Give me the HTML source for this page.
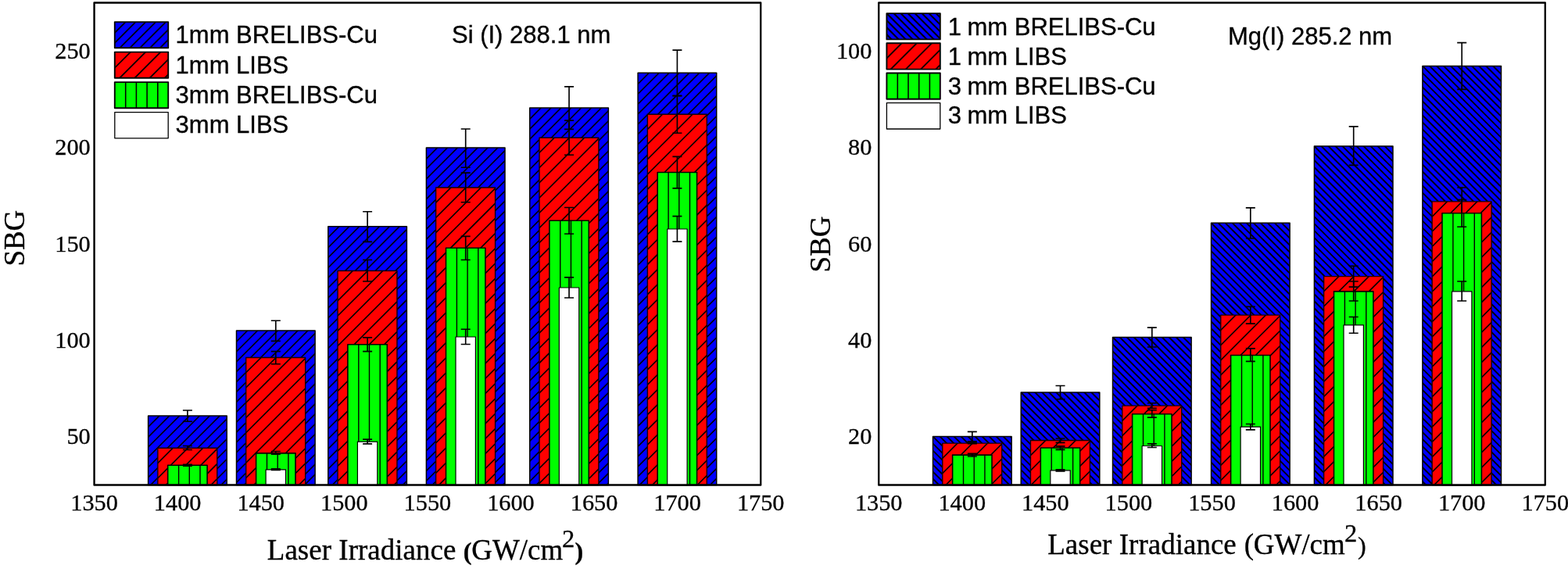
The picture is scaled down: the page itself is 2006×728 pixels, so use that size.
<!DOCTYPE html>
<html><head><meta charset="utf-8"><title>SBG vs Laser Irradiance</title>
<style>
html,body{margin:0;padding:0;background:#fff;}
body{width:2006px;height:728px;overflow:hidden;}
svg{display:block;}
.tk{font-family:"Liberation Serif",serif;font-size:30.3px;fill:#000;stroke:#000;stroke-width:0.3px;}
.al{font-family:"Liberation Serif",serif;font-size:36.9px;fill:#000;stroke:#000;stroke-width:0.35px;}
.lg{font-family:"Liberation Sans",sans-serif;font-size:31px;fill:#000;stroke:#000;stroke-width:0.35px;}
</style></head><body>
<svg width="2006" height="728" viewBox="0 0 2006 728">
<defs><clipPath id="c1"><rect x="189.6" y="532.1" width="100.6" height="88.45"/></clipPath><clipPath id="c2"><rect x="201.85" y="573.3" width="75.9" height="47.25"/></clipPath><clipPath id="c3"><rect x="214.7" y="595.3" width="50.4" height="25.25"/></clipPath><clipPath id="c4"><rect x="302.5" y="422.9" width="100.6" height="197.65"/></clipPath><clipPath id="c5"><rect x="314.75" y="457.5" width="75.9" height="163.05"/></clipPath><clipPath id="c6"><rect x="327.6" y="579.9" width="50.4" height="40.65"/></clipPath><clipPath id="c7"><rect x="419.8" y="289.7" width="100.6" height="330.85"/></clipPath><clipPath id="c8"><rect x="432.05" y="346.5" width="75.9" height="274.05"/></clipPath><clipPath id="c9"><rect x="444.9" y="440.7" width="50.4" height="179.85"/></clipPath><clipPath id="c10"><rect x="545.4" y="189" width="100.6" height="431.55"/></clipPath><clipPath id="c11"><rect x="557.65" y="240" width="75.9" height="380.55"/></clipPath><clipPath id="c12"><rect x="570.5" y="317.3" width="50.4" height="303.25"/></clipPath><clipPath id="c13"><rect x="677.75" y="138.1" width="100.6" height="482.45"/></clipPath><clipPath id="c14"><rect x="690" y="176.2" width="75.9" height="444.35"/></clipPath><clipPath id="c15"><rect x="702.85" y="282.3" width="50.4" height="338.25"/></clipPath><clipPath id="c16"><rect x="816.1" y="93.3" width="100.6" height="527.25"/></clipPath><clipPath id="c17"><rect x="828.35" y="146.2" width="75.9" height="474.35"/></clipPath><clipPath id="c18"><rect x="841.2" y="220.5" width="50.4" height="400.05"/></clipPath><clipPath id="c19"><rect x="146.8" y="28.1" width="68.4" height="33.2"/></clipPath><clipPath id="c20"><rect x="146.8" y="66.6" width="68.4" height="33.2"/></clipPath><clipPath id="c21"><rect x="146.8" y="105.1" width="68.4" height="33.2"/></clipPath><clipPath id="c22"><rect x="1193.5" y="558.5" width="100.6" height="62.05"/></clipPath><clipPath id="c23"><rect x="1205.75" y="567.1" width="75.9" height="53.45"/></clipPath><clipPath id="c24"><rect x="1218.6" y="582.1" width="50.4" height="38.45"/></clipPath><clipPath id="c25"><rect x="1306.2" y="502.1" width="100.6" height="118.45"/></clipPath><clipPath id="c26"><rect x="1318.45" y="563.5" width="75.9" height="57.05"/></clipPath><clipPath id="c27"><rect x="1331.3" y="573" width="50.4" height="47.55"/></clipPath><clipPath id="c28"><rect x="1423.5" y="431.4" width="100.6" height="189.15"/></clipPath><clipPath id="c29"><rect x="1435.75" y="519.1" width="75.9" height="101.45"/></clipPath><clipPath id="c30"><rect x="1448.6" y="529.8" width="50.4" height="90.75"/></clipPath><clipPath id="c31"><rect x="1549.5" y="285.2" width="100.6" height="335.35"/></clipPath><clipPath id="c32"><rect x="1561.75" y="403.1" width="75.9" height="217.45"/></clipPath><clipPath id="c33"><rect x="1574.6" y="454.5" width="50.4" height="166.05"/></clipPath><clipPath id="c34"><rect x="1681.4" y="187" width="100.6" height="433.55"/></clipPath><clipPath id="c35"><rect x="1693.65" y="353.6" width="75.9" height="266.95"/></clipPath><clipPath id="c36"><rect x="1706.5" y="372.9" width="50.4" height="247.65"/></clipPath><clipPath id="c37"><rect x="1819.9" y="84.4" width="100.6" height="536.15"/></clipPath><clipPath id="c38"><rect x="1832.15" y="257.9" width="75.9" height="362.65"/></clipPath><clipPath id="c39"><rect x="1845" y="272.7" width="50.4" height="347.85"/></clipPath><clipPath id="c40"><rect x="1134.4" y="17.1" width="68.4" height="33.3"/></clipPath><clipPath id="c41"><rect x="1134.4" y="55.3" width="68.4" height="33.3"/></clipPath><clipPath id="c42"><rect x="1134.4" y="93.5" width="68.4" height="33.3"/></clipPath></defs>
<rect width="2006" height="728" fill="#fff"/>
<rect x="189.6" y="532.1" width="100.6" height="88.45" fill="#0000ff"/><path clip-path="url(#c1)" d="M187.6 548.28L292.2 443.68M187.6 561.16L292.2 456.56M187.6 574.04L292.2 469.44M187.6 586.92L292.2 482.32M187.6 599.8L292.2 495.2M187.6 612.68L292.2 508.08M187.6 625.56L292.2 520.96M187.6 638.44L292.2 533.84M187.6 651.32L292.2 546.72M187.6 664.2L292.2 559.6M187.6 677.08L292.2 572.48M187.6 689.96L292.2 585.36M187.6 702.84L292.2 598.24M187.6 715.72L292.2 611.12" stroke="#000" stroke-width="1.6" fill="none"/><rect x="189.6" y="532.1" width="100.6" height="88.45" fill="none" stroke="#000" stroke-width="1.5" stroke-linejoin="round"/>
<path d="M239.9 525V539.2M233.9 525H245.9M233.9 539.2H245.9" stroke="#000" stroke-width="1.65" fill="none"/>
<rect x="201.85" y="573.3" width="75.9" height="47.25" fill="#ff0000"/><path clip-path="url(#c2)" d="M199.85 594.52L279.75 514.62M199.85 613.74L279.75 533.84M199.85 632.96L279.75 553.06M199.85 652.18L279.75 572.28M199.85 671.4L279.75 591.5M199.85 690.62L279.75 610.72" stroke="#000" stroke-width="1.6" fill="none"/><rect x="201.85" y="573.3" width="75.9" height="47.25" fill="none" stroke="#180000" stroke-width="1.4" stroke-linejoin="round"/>
<path d="M239.9 570.5V575.5M233.9 570.5H245.9M233.9 575.5H245.9" stroke="#000" stroke-width="1.65" fill="none"/>
<rect x="214.7" y="595.3" width="50.4" height="25.25" fill="#00ff00"/><path clip-path="url(#c3)" d="M228.6 595.3V620.55M242.3 595.3V620.55M256 595.3V620.55" stroke="#000" stroke-width="1.4" fill="none"/><rect x="214.7" y="595.3" width="50.4" height="25.25" fill="none" stroke="#000" stroke-width="1.6" stroke-linejoin="round"/>
<path d="M239.9 594.3V596.2M233.9 594.3H245.9M233.9 596.2H245.9" stroke="#000" stroke-width="1.65" fill="none"/>
<rect x="302.5" y="422.9" width="100.6" height="197.65" fill="#0000ff"/><path clip-path="url(#c4)" d="M300.5 439.08L405.1 334.48M300.5 451.96L405.1 347.36M300.5 464.84L405.1 360.24M300.5 477.72L405.1 373.12M300.5 490.6L405.1 386M300.5 503.48L405.1 398.88M300.5 516.36L405.1 411.76M300.5 529.24L405.1 424.64M300.5 542.12L405.1 437.52M300.5 555L405.1 450.4M300.5 567.88L405.1 463.28M300.5 580.76L405.1 476.16M300.5 593.64L405.1 489.04M300.5 606.52L405.1 501.92M300.5 619.4L405.1 514.8M300.5 632.28L405.1 527.68M300.5 645.16L405.1 540.56M300.5 658.04L405.1 553.44M300.5 670.92L405.1 566.32M300.5 683.8L405.1 579.2M300.5 696.68L405.1 592.08M300.5 709.56L405.1 604.96M300.5 722.44L405.1 617.84" stroke="#000" stroke-width="1.6" fill="none"/><rect x="302.5" y="422.9" width="100.6" height="197.65" fill="none" stroke="#000" stroke-width="1.5" stroke-linejoin="round"/>
<path d="M352.8 410.2V436.4M346.8 410.2H358.8M346.8 436.4H358.8" stroke="#000" stroke-width="1.65" fill="none"/>
<rect x="314.75" y="457.5" width="75.9" height="163.05" fill="#ff0000"/><path clip-path="url(#c5)" d="M312.75 478.72L392.65 398.82M312.75 497.94L392.65 418.04M312.75 517.16L392.65 437.26M312.75 536.38L392.65 456.48M312.75 555.6L392.65 475.7M312.75 574.82L392.65 494.92M312.75 594.04L392.65 514.14M312.75 613.26L392.65 533.36M312.75 632.48L392.65 552.58M312.75 651.7L392.65 571.8M312.75 670.92L392.65 591.02M312.75 690.14L392.65 610.24" stroke="#000" stroke-width="1.6" fill="none"/><rect x="314.75" y="457.5" width="75.9" height="163.05" fill="none" stroke="#180000" stroke-width="1.4" stroke-linejoin="round"/>
<path d="M352.8 449.6V465.7M346.8 449.6H358.8M346.8 465.7H358.8" stroke="#000" stroke-width="1.65" fill="none"/>
<rect x="327.6" y="579.9" width="50.4" height="40.65" fill="#00ff00"/><path clip-path="url(#c6)" d="M341.5 579.9V620.55M355.2 579.9V620.55M368.9 579.9V620.55" stroke="#000" stroke-width="1.4" fill="none"/><rect x="327.6" y="579.9" width="50.4" height="40.65" fill="none" stroke="#000" stroke-width="1.6" stroke-linejoin="round"/>
<path d="M352.8 577.5V581.1M346.8 577.5H358.8M346.8 581.1H358.8" stroke="#000" stroke-width="1.65" fill="none"/>
<rect x="340.1" y="600.9" width="25.4" height="19.65" fill="#ffffff"/><rect x="340.1" y="600.9" width="25.4" height="19.65" fill="none" stroke="#000" stroke-width="1.2" stroke-linejoin="round"/>
<path d="M352.8 599.9V601.5M346.8 599.9H358.8M346.8 601.5H358.8" stroke="#000" stroke-width="1.65" fill="none"/>
<rect x="419.8" y="289.7" width="100.6" height="330.85" fill="#0000ff"/><path clip-path="url(#c7)" d="M417.8 305.88L522.4 201.28M417.8 318.76L522.4 214.16M417.8 331.64L522.4 227.04M417.8 344.52L522.4 239.92M417.8 357.4L522.4 252.8M417.8 370.28L522.4 265.68M417.8 383.16L522.4 278.56M417.8 396.04L522.4 291.44M417.8 408.92L522.4 304.32M417.8 421.8L522.4 317.2M417.8 434.68L522.4 330.08M417.8 447.56L522.4 342.96M417.8 460.44L522.4 355.84M417.8 473.32L522.4 368.72M417.8 486.2L522.4 381.6M417.8 499.08L522.4 394.48M417.8 511.96L522.4 407.36M417.8 524.84L522.4 420.24M417.8 537.72L522.4 433.12M417.8 550.6L522.4 446M417.8 563.48L522.4 458.88M417.8 576.36L522.4 471.76M417.8 589.24L522.4 484.64M417.8 602.12L522.4 497.52M417.8 615L522.4 510.4M417.8 627.88L522.4 523.28M417.8 640.76L522.4 536.16M417.8 653.64L522.4 549.04M417.8 666.52L522.4 561.92M417.8 679.4L522.4 574.8M417.8 692.28L522.4 587.68M417.8 705.16L522.4 600.56M417.8 718.04L522.4 613.44" stroke="#000" stroke-width="1.6" fill="none"/><rect x="419.8" y="289.7" width="100.6" height="330.85" fill="none" stroke="#000" stroke-width="1.5" stroke-linejoin="round"/>
<path d="M470.1 270.7V309.4M464.1 270.7H476.1M464.1 309.4H476.1" stroke="#000" stroke-width="1.65" fill="none"/>
<rect x="432.05" y="346.5" width="75.9" height="274.05" fill="#ff0000"/><path clip-path="url(#c8)" d="M430.05 367.72L509.95 287.82M430.05 386.94L509.95 307.04M430.05 406.16L509.95 326.26M430.05 425.38L509.95 345.48M430.05 444.6L509.95 364.7M430.05 463.82L509.95 383.92M430.05 483.04L509.95 403.14M430.05 502.26L509.95 422.36M430.05 521.48L509.95 441.58M430.05 540.7L509.95 460.8M430.05 559.92L509.95 480.02M430.05 579.14L509.95 499.24M430.05 598.36L509.95 518.46M430.05 617.58L509.95 537.68M430.05 636.8L509.95 556.9M430.05 656.02L509.95 576.12M430.05 675.24L509.95 595.34M430.05 694.46L509.95 614.56" stroke="#000" stroke-width="1.6" fill="none"/><rect x="432.05" y="346.5" width="75.9" height="274.05" fill="none" stroke="#180000" stroke-width="1.4" stroke-linejoin="round"/>
<path d="M470.1 332.5V360M464.1 332.5H476.1M464.1 360H476.1" stroke="#000" stroke-width="1.65" fill="none"/>
<rect x="444.9" y="440.7" width="50.4" height="179.85" fill="#00ff00"/><path clip-path="url(#c9)" d="M458.8 440.7V620.55M472.5 440.7V620.55M486.2 440.7V620.55" stroke="#000" stroke-width="1.4" fill="none"/><rect x="444.9" y="440.7" width="50.4" height="179.85" fill="none" stroke="#000" stroke-width="1.6" stroke-linejoin="round"/>
<path d="M470.1 431.9V449.6M464.1 431.9H476.1M464.1 449.6H476.1" stroke="#000" stroke-width="1.65" fill="none"/>
<rect x="457.4" y="565.1" width="25.4" height="55.45" fill="#ffffff"/><rect x="457.4" y="565.1" width="25.4" height="55.45" fill="none" stroke="#000" stroke-width="1.2" stroke-linejoin="round"/>
<path d="M470.1 562.1V567.9M464.1 562.1H476.1M464.1 567.9H476.1" stroke="#000" stroke-width="1.65" fill="none"/>
<rect x="545.4" y="189" width="100.6" height="431.55" fill="#0000ff"/><path clip-path="url(#c10)" d="M543.4 205.18L648 100.58M543.4 218.06L648 113.46M543.4 230.94L648 126.34M543.4 243.82L648 139.22M543.4 256.7L648 152.1M543.4 269.58L648 164.98M543.4 282.46L648 177.86M543.4 295.34L648 190.74M543.4 308.22L648 203.62M543.4 321.1L648 216.5M543.4 333.98L648 229.38M543.4 346.86L648 242.26M543.4 359.74L648 255.14M543.4 372.62L648 268.02M543.4 385.5L648 280.9M543.4 398.38L648 293.78M543.4 411.26L648 306.66M543.4 424.14L648 319.54M543.4 437.02L648 332.42M543.4 449.9L648 345.3M543.4 462.78L648 358.18M543.4 475.66L648 371.06M543.4 488.54L648 383.94M543.4 501.42L648 396.82M543.4 514.3L648 409.7M543.4 527.18L648 422.58M543.4 540.06L648 435.46M543.4 552.94L648 448.34M543.4 565.82L648 461.22M543.4 578.7L648 474.1M543.4 591.58L648 486.98M543.4 604.46L648 499.86M543.4 617.34L648 512.74M543.4 630.22L648 525.62M543.4 643.1L648 538.5M543.4 655.98L648 551.38M543.4 668.86L648 564.26M543.4 681.74L648 577.14M543.4 694.62L648 590.02M543.4 707.5L648 602.9M543.4 720.38L648 615.78" stroke="#000" stroke-width="1.6" fill="none"/><rect x="545.4" y="189" width="100.6" height="431.55" fill="none" stroke="#000" stroke-width="1.5" stroke-linejoin="round"/>
<path d="M595.7 165V214.2M589.7 165H601.7M589.7 214.2H601.7" stroke="#000" stroke-width="1.65" fill="none"/>
<rect x="557.65" y="240" width="75.9" height="380.55" fill="#ff0000"/><path clip-path="url(#c11)" d="M555.65 261.22L635.55 181.32M555.65 280.44L635.55 200.54M555.65 299.66L635.55 219.76M555.65 318.88L635.55 238.98M555.65 338.1L635.55 258.2M555.65 357.32L635.55 277.42M555.65 376.54L635.55 296.64M555.65 395.76L635.55 315.86M555.65 414.98L635.55 335.08M555.65 434.2L635.55 354.3M555.65 453.42L635.55 373.52M555.65 472.64L635.55 392.74M555.65 491.86L635.55 411.96M555.65 511.08L635.55 431.18M555.65 530.3L635.55 450.4M555.65 549.52L635.55 469.62M555.65 568.74L635.55 488.84M555.65 587.96L635.55 508.06M555.65 607.18L635.55 527.28M555.65 626.4L635.55 546.5M555.65 645.62L635.55 565.72M555.65 664.84L635.55 584.94M555.65 684.06L635.55 604.16" stroke="#000" stroke-width="1.6" fill="none"/><rect x="557.65" y="240" width="75.9" height="380.55" fill="none" stroke="#180000" stroke-width="1.4" stroke-linejoin="round"/>
<path d="M595.7 221.1V258.7M589.7 221.1H601.7M589.7 258.7H601.7" stroke="#000" stroke-width="1.65" fill="none"/>
<rect x="570.5" y="317.3" width="50.4" height="303.25" fill="#00ff00"/><path clip-path="url(#c12)" d="M584.4 317.3V620.55M598.1 317.3V620.55M611.8 317.3V620.55" stroke="#000" stroke-width="1.4" fill="none"/><rect x="570.5" y="317.3" width="50.4" height="303.25" fill="none" stroke="#000" stroke-width="1.6" stroke-linejoin="round"/>
<path d="M595.7 302.4V332.5M589.7 302.4H601.7M589.7 332.5H601.7" stroke="#000" stroke-width="1.65" fill="none"/>
<rect x="583" y="431" width="25.4" height="189.55" fill="#ffffff"/><rect x="583" y="431" width="25.4" height="189.55" fill="none" stroke="#000" stroke-width="1.2" stroke-linejoin="round"/>
<path d="M595.7 421.2V440.5M589.7 421.2H601.7M589.7 440.5H601.7" stroke="#000" stroke-width="1.65" fill="none"/>
<rect x="677.75" y="138.1" width="100.6" height="482.45" fill="#0000ff"/><path clip-path="url(#c13)" d="M675.75 154.28L780.35 49.68M675.75 167.16L780.35 62.56M675.75 180.04L780.35 75.44M675.75 192.92L780.35 88.32M675.75 205.8L780.35 101.2M675.75 218.68L780.35 114.08M675.75 231.56L780.35 126.96M675.75 244.44L780.35 139.84M675.75 257.32L780.35 152.72M675.75 270.2L780.35 165.6M675.75 283.08L780.35 178.48M675.75 295.96L780.35 191.36M675.75 308.84L780.35 204.24M675.75 321.72L780.35 217.12M675.75 334.6L780.35 230M675.75 347.48L780.35 242.88M675.75 360.36L780.35 255.76M675.75 373.24L780.35 268.64M675.75 386.12L780.35 281.52M675.75 399L780.35 294.4M675.75 411.88L780.35 307.28M675.75 424.76L780.35 320.16M675.75 437.64L780.35 333.04M675.75 450.52L780.35 345.92M675.75 463.4L780.35 358.8M675.75 476.28L780.35 371.68M675.75 489.16L780.35 384.56M675.75 502.04L780.35 397.44M675.75 514.92L780.35 410.32M675.75 527.8L780.35 423.2M675.75 540.68L780.35 436.08M675.75 553.56L780.35 448.96M675.75 566.44L780.35 461.84M675.75 579.32L780.35 474.72M675.75 592.2L780.35 487.6M675.75 605.08L780.35 500.48M675.75 617.96L780.35 513.36M675.75 630.84L780.35 526.24M675.75 643.72L780.35 539.12M675.75 656.6L780.35 552M675.75 669.48L780.35 564.88M675.75 682.36L780.35 577.76M675.75 695.24L780.35 590.64M675.75 708.12L780.35 603.52M675.75 721L780.35 616.4" stroke="#000" stroke-width="1.6" fill="none"/><rect x="677.75" y="138.1" width="100.6" height="482.45" fill="none" stroke="#000" stroke-width="1.5" stroke-linejoin="round"/>
<path d="M728.05 110.9V165.3M722.05 110.9H734.05M722.05 165.3H734.05" stroke="#000" stroke-width="1.65" fill="none"/>
<rect x="690" y="176.2" width="75.9" height="444.35" fill="#ff0000"/><path clip-path="url(#c14)" d="M688 197.42L767.9 117.52M688 216.64L767.9 136.74M688 235.86L767.9 155.96M688 255.08L767.9 175.18M688 274.3L767.9 194.4M688 293.52L767.9 213.62M688 312.74L767.9 232.84M688 331.96L767.9 252.06M688 351.18L767.9 271.28M688 370.4L767.9 290.5M688 389.62L767.9 309.72M688 408.84L767.9 328.94M688 428.06L767.9 348.16M688 447.28L767.9 367.38M688 466.5L767.9 386.6M688 485.72L767.9 405.82M688 504.94L767.9 425.04M688 524.16L767.9 444.26M688 543.38L767.9 463.48M688 562.6L767.9 482.7M688 581.82L767.9 501.92M688 601.04L767.9 521.14M688 620.26L767.9 540.36M688 639.48L767.9 559.58M688 658.7L767.9 578.8M688 677.92L767.9 598.02M688 697.14L767.9 617.24" stroke="#000" stroke-width="1.6" fill="none"/><rect x="690" y="176.2" width="75.9" height="444.35" fill="none" stroke="#180000" stroke-width="1.4" stroke-linejoin="round"/>
<path d="M728.05 154.1V198.2M722.05 154.1H734.05M722.05 198.2H734.05" stroke="#000" stroke-width="1.65" fill="none"/>
<rect x="702.85" y="282.3" width="50.4" height="338.25" fill="#00ff00"/><path clip-path="url(#c15)" d="M716.75 282.3V620.55M730.45 282.3V620.55M744.15 282.3V620.55" stroke="#000" stroke-width="1.4" fill="none"/><rect x="702.85" y="282.3" width="50.4" height="338.25" fill="none" stroke="#000" stroke-width="1.6" stroke-linejoin="round"/>
<path d="M728.05 265.5V299.2M722.05 265.5H734.05M722.05 299.2H734.05" stroke="#000" stroke-width="1.65" fill="none"/>
<rect x="715.35" y="368" width="25.4" height="252.55" fill="#ffffff"/><rect x="715.35" y="368" width="25.4" height="252.55" fill="none" stroke="#000" stroke-width="1.2" stroke-linejoin="round"/>
<path d="M728.05 354.8V381M722.05 354.8H734.05M722.05 381H734.05" stroke="#000" stroke-width="1.65" fill="none"/>
<rect x="816.1" y="93.3" width="100.6" height="527.25" fill="#0000ff"/><path clip-path="url(#c16)" d="M814.1 109.48L918.7 4.88M814.1 122.36L918.7 17.76M814.1 135.24L918.7 30.64M814.1 148.12L918.7 43.52M814.1 161L918.7 56.4M814.1 173.88L918.7 69.28M814.1 186.76L918.7 82.16M814.1 199.64L918.7 95.04M814.1 212.52L918.7 107.92M814.1 225.4L918.7 120.8M814.1 238.28L918.7 133.68M814.1 251.16L918.7 146.56M814.1 264.04L918.7 159.44M814.1 276.92L918.7 172.32M814.1 289.8L918.7 185.2M814.1 302.68L918.7 198.08M814.1 315.56L918.7 210.96M814.1 328.44L918.7 223.84M814.1 341.32L918.7 236.72M814.1 354.2L918.7 249.6M814.1 367.08L918.7 262.48M814.1 379.96L918.7 275.36M814.1 392.84L918.7 288.24M814.1 405.72L918.7 301.12M814.1 418.6L918.7 314M814.1 431.48L918.7 326.88M814.1 444.36L918.7 339.76M814.1 457.24L918.7 352.64M814.1 470.12L918.7 365.52M814.1 483L918.7 378.4M814.1 495.88L918.7 391.28M814.1 508.76L918.7 404.16M814.1 521.64L918.7 417.04M814.1 534.52L918.7 429.92M814.1 547.4L918.7 442.8M814.1 560.28L918.7 455.68M814.1 573.16L918.7 468.56M814.1 586.04L918.7 481.44M814.1 598.92L918.7 494.32M814.1 611.8L918.7 507.2M814.1 624.68L918.7 520.08M814.1 637.56L918.7 532.96M814.1 650.44L918.7 545.84M814.1 663.32L918.7 558.72M814.1 676.2L918.7 571.6M814.1 689.08L918.7 584.48M814.1 701.96L918.7 597.36M814.1 714.84L918.7 610.24" stroke="#000" stroke-width="1.6" fill="none"/><rect x="816.1" y="93.3" width="100.6" height="527.25" fill="none" stroke="#000" stroke-width="1.5" stroke-linejoin="round"/>
<path d="M866.4 64.2V122.7M860.4 64.2H872.4M860.4 122.7H872.4" stroke="#000" stroke-width="1.65" fill="none"/>
<rect x="828.35" y="146.2" width="75.9" height="474.35" fill="#ff0000"/><path clip-path="url(#c17)" d="M826.35 167.42L906.25 87.52M826.35 186.64L906.25 106.74M826.35 205.86L906.25 125.96M826.35 225.08L906.25 145.18M826.35 244.3L906.25 164.4M826.35 263.52L906.25 183.62M826.35 282.74L906.25 202.84M826.35 301.96L906.25 222.06M826.35 321.18L906.25 241.28M826.35 340.4L906.25 260.5M826.35 359.62L906.25 279.72M826.35 378.84L906.25 298.94M826.35 398.06L906.25 318.16M826.35 417.28L906.25 337.38M826.35 436.5L906.25 356.6M826.35 455.72L906.25 375.82M826.35 474.94L906.25 395.04M826.35 494.16L906.25 414.26M826.35 513.38L906.25 433.48M826.35 532.6L906.25 452.7M826.35 551.82L906.25 471.92M826.35 571.04L906.25 491.14M826.35 590.26L906.25 510.36M826.35 609.48L906.25 529.58M826.35 628.7L906.25 548.8M826.35 647.92L906.25 568.02M826.35 667.14L906.25 587.24M826.35 686.36L906.25 606.46" stroke="#000" stroke-width="1.6" fill="none"/><rect x="828.35" y="146.2" width="75.9" height="474.35" fill="none" stroke="#180000" stroke-width="1.4" stroke-linejoin="round"/>
<path d="M866.4 122.4V170.2M860.4 122.4H872.4M860.4 170.2H872.4" stroke="#000" stroke-width="1.65" fill="none"/>
<rect x="841.2" y="220.5" width="50.4" height="400.05" fill="#00ff00"/><path clip-path="url(#c18)" d="M855.1 220.5V620.55M868.8 220.5V620.55M882.5 220.5V620.55" stroke="#000" stroke-width="1.4" fill="none"/><rect x="841.2" y="220.5" width="50.4" height="400.05" fill="none" stroke="#000" stroke-width="1.6" stroke-linejoin="round"/>
<path d="M866.4 200.4V240.8M860.4 200.4H872.4M860.4 240.8H872.4" stroke="#000" stroke-width="1.65" fill="none"/>
<rect x="853.7" y="293" width="25.4" height="327.55" fill="#ffffff"/><rect x="853.7" y="293" width="25.4" height="327.55" fill="none" stroke="#000" stroke-width="1.2" stroke-linejoin="round"/>
<path d="M866.4 276.6V309.1M860.4 276.6H872.4M860.4 309.1H872.4" stroke="#000" stroke-width="1.65" fill="none"/>
<rect x="120.55" y="3.55" width="852.65" height="617" fill="none" stroke="#000" stroke-width="2.4" stroke-linejoin="round"/>
<text x="120.55" y="653.2" text-anchor="middle" class="tk">1350</text>
<text x="227.13" y="653.2" text-anchor="middle" class="tk">1400</text>
<text x="333.71" y="653.2" text-anchor="middle" class="tk">1450</text>
<text x="440.29" y="653.2" text-anchor="middle" class="tk">1500</text>
<text x="546.88" y="653.2" text-anchor="middle" class="tk">1550</text>
<text x="653.46" y="653.2" text-anchor="middle" class="tk">1600</text>
<text x="760.04" y="653.2" text-anchor="middle" class="tk">1650</text>
<text x="866.62" y="653.2" text-anchor="middle" class="tk">1700</text>
<text x="973.2" y="653.2" text-anchor="middle" class="tk">1750</text>
<text x="115.7" y="568.4" text-anchor="end" class="tk">50</text>
<text x="115.7" y="445" text-anchor="end" class="tk">100</text>
<text x="115.7" y="321.6" text-anchor="end" class="tk">150</text>
<text x="115.7" y="198.2" text-anchor="end" class="tk">200</text>
<text x="115.7" y="74.8" text-anchor="end" class="tk">250</text>
<text y="716" class="al"><tspan x="341.8" letter-spacing="0.06">Laser Irradiance</tspan> <tspan x="592.8" font-weight="bold" font-size="32">(</tspan><tspan x="603.3">GW/cm</tspan><tspan x="719" dy="-15.7" font-size="32.5">2</tspan><tspan x="735.4" dy="15.7" font-weight="bold" font-size="32">)</tspan></text>
<text transform="translate(30.6 304.7) rotate(-90)" text-anchor="middle" class="al">SBG</text>
<rect x="146.8" y="28.1" width="68.4" height="33.2" fill="#0000ff"/><path clip-path="url(#c19)" d="M144.8 43.98L217.2 -28.42M144.8 56.86L217.2 -15.54M144.8 69.74L217.2 -2.66M144.8 82.62L217.2 10.22M144.8 95.5L217.2 23.1M144.8 108.38L217.2 35.98M144.8 121.26L217.2 48.86" stroke="#000" stroke-width="1.75" fill="none"/><rect x="146.8" y="28.1" width="68.4" height="33.2" fill="none" stroke="#000" stroke-width="1.9" stroke-linejoin="round"/>
<text x="224.6" y="54.7" class="lg">1mm BRELIBS-Cu</text>
<rect x="146.8" y="66.6" width="68.4" height="33.2" fill="#ff0000"/><path clip-path="url(#c20)" d="M144.8 88.82L217.2 16.42M144.8 108.04L217.2 35.64M144.8 127.26L217.2 54.86M144.8 146.48L217.2 74.08M144.8 165.7L217.2 93.3" stroke="#000" stroke-width="1.75" fill="none"/><rect x="146.8" y="66.6" width="68.4" height="33.2" fill="none" stroke="#000" stroke-width="1.9" stroke-linejoin="round"/>
<text x="224.6" y="94.2" class="lg">1mm LIBS</text>
<rect x="146.8" y="105.1" width="68.4" height="33.2" fill="#00ff00"/><path clip-path="url(#c21)" d="M160.7 105.1V138.3M174.4 105.1V138.3M188.1 105.1V138.3M201.8 105.1V138.3" stroke="#000" stroke-width="1.55" fill="none"/><rect x="146.8" y="105.1" width="68.4" height="33.2" fill="none" stroke="#000" stroke-width="1.9" stroke-linejoin="round"/>
<text x="224.6" y="131.7" class="lg">3mm BRELIBS-Cu</text>
<rect x="146.8" y="143.6" width="68.4" height="33.2" fill="#ffffff"/><rect x="146.8" y="143.6" width="68.4" height="33.2" fill="none" stroke="#000" stroke-width="1.3" stroke-linejoin="round"/>
<text x="224.6" y="170.2" class="lg">3mm LIBS</text>
<text x="578" y="55" class="lg">Si (I) 288.1 nm</text>
<rect x="1193.5" y="558.5" width="100.6" height="62.05" fill="#0000ff"/><path clip-path="url(#c22)" d="M1191.5 610.57L1296.1 715.17M1191.5 601.56L1296.1 706.16M1191.5 592.55L1296.1 697.15M1191.5 583.54L1296.1 688.14M1191.5 574.52L1296.1 679.12M1191.5 565.51L1296.1 670.11M1191.5 556.5L1296.1 661.1M1191.5 547.49L1296.1 652.09M1191.5 538.48L1296.1 643.08M1191.5 529.46L1296.1 634.06M1191.5 520.45L1296.1 625.05M1191.5 511.44L1296.1 616.04M1191.5 502.43L1296.1 607.03M1191.5 493.42L1296.1 598.02M1191.5 484.4L1296.1 589M1191.5 475.39L1296.1 579.99M1191.5 466.38L1296.1 570.98M1191.5 457.37L1296.1 561.97" stroke="#000" stroke-width="1.9" fill="none"/><rect x="1193.5" y="558.5" width="100.6" height="62.05" fill="none" stroke="#000" stroke-width="1.5" stroke-linejoin="round"/>
<path d="M1243.8 552.3V564.7M1237.8 552.3H1249.8M1237.8 564.7H1249.8" stroke="#000" stroke-width="1.65" fill="none"/>
<rect x="1205.75" y="567.1" width="75.9" height="53.45" fill="#ff0000"/><path clip-path="url(#c23)" d="M1203.75 588.32L1283.65 508.42M1203.75 607.54L1283.65 527.64M1203.75 626.76L1283.65 546.86M1203.75 645.98L1283.65 566.08M1203.75 665.2L1283.65 585.3M1203.75 684.42L1283.65 604.52" stroke="#000" stroke-width="1.6" fill="none"/><rect x="1205.75" y="567.1" width="75.9" height="53.45" fill="none" stroke="#180000" stroke-width="1.4" stroke-linejoin="round"/>
<path d="M1243.8 566.1V567.6M1237.8 566.1H1249.8M1237.8 567.6H1249.8" stroke="#000" stroke-width="1.65" fill="none"/>
<rect x="1218.6" y="582.1" width="50.4" height="38.45" fill="#00ff00"/><path clip-path="url(#c24)" d="M1232.5 582.1V620.55M1246.2 582.1V620.55M1259.9 582.1V620.55" stroke="#000" stroke-width="1.4" fill="none"/><rect x="1218.6" y="582.1" width="50.4" height="38.45" fill="none" stroke="#000" stroke-width="1.6" stroke-linejoin="round"/>
<path d="M1243.8 580.4V584M1237.8 580.4H1249.8M1237.8 584H1249.8" stroke="#000" stroke-width="1.65" fill="none"/>
<rect x="1306.2" y="502.1" width="100.6" height="118.45" fill="#0000ff"/><path clip-path="url(#c25)" d="M1304.2 617.26L1408.8 721.86M1304.2 608.24L1408.8 712.84M1304.2 599.23L1408.8 703.83M1304.2 590.22L1408.8 694.82M1304.2 581.21L1408.8 685.81M1304.2 572.2L1408.8 676.8M1304.2 563.18L1408.8 667.78M1304.2 554.17L1408.8 658.77M1304.2 545.16L1408.8 649.76M1304.2 536.15L1408.8 640.75M1304.2 527.14L1408.8 631.74M1304.2 518.12L1408.8 622.72M1304.2 509.11L1408.8 613.71M1304.2 500.1L1408.8 604.7M1304.2 491.09L1408.8 595.69M1304.2 482.08L1408.8 586.68M1304.2 473.06L1408.8 577.66M1304.2 464.05L1408.8 568.65M1304.2 455.04L1408.8 559.64M1304.2 446.03L1408.8 550.63M1304.2 437.02L1408.8 541.62M1304.2 428L1408.8 532.6M1304.2 418.99L1408.8 523.59M1304.2 409.98L1408.8 514.58M1304.2 400.97L1408.8 505.57" stroke="#000" stroke-width="1.9" fill="none"/><rect x="1306.2" y="502.1" width="100.6" height="118.45" fill="none" stroke="#000" stroke-width="1.5" stroke-linejoin="round"/>
<path d="M1356.5 493.5V510.7M1350.5 493.5H1362.5M1350.5 510.7H1362.5" stroke="#000" stroke-width="1.65" fill="none"/>
<rect x="1318.45" y="563.5" width="75.9" height="57.05" fill="#ff0000"/><path clip-path="url(#c26)" d="M1316.45 584.72L1396.35 504.82M1316.45 603.94L1396.35 524.04M1316.45 623.16L1396.35 543.26M1316.45 642.38L1396.35 562.48M1316.45 661.6L1396.35 581.7M1316.45 680.82L1396.35 600.92" stroke="#000" stroke-width="1.6" fill="none"/><rect x="1318.45" y="563.5" width="75.9" height="57.05" fill="none" stroke="#180000" stroke-width="1.4" stroke-linejoin="round"/>
<path d="M1356.5 561V566.4M1350.5 561H1362.5M1350.5 566.4H1362.5" stroke="#000" stroke-width="1.65" fill="none"/>
<rect x="1331.3" y="573" width="50.4" height="47.55" fill="#00ff00"/><path clip-path="url(#c27)" d="M1345.2 573V620.55M1358.9 573V620.55M1372.6 573V620.55" stroke="#000" stroke-width="1.4" fill="none"/><rect x="1331.3" y="573" width="50.4" height="47.55" fill="none" stroke="#000" stroke-width="1.6" stroke-linejoin="round"/>
<path d="M1356.5 570.9V575.3M1350.5 570.9H1362.5M1350.5 575.3H1362.5" stroke="#000" stroke-width="1.65" fill="none"/>
<rect x="1343.8" y="601.9" width="25.4" height="18.65" fill="#ffffff"/><rect x="1343.8" y="601.9" width="25.4" height="18.65" fill="none" stroke="#000" stroke-width="1.2" stroke-linejoin="round"/>
<path d="M1356.5 600.9V602.9M1350.5 600.9H1362.5M1350.5 602.9H1362.5" stroke="#000" stroke-width="1.65" fill="none"/>
<rect x="1423.5" y="431.4" width="100.6" height="189.15" fill="#0000ff"/><path clip-path="url(#c28)" d="M1421.5 609.64L1526.1 714.24M1421.5 600.63L1526.1 705.23M1421.5 591.62L1526.1 696.22M1421.5 582.6L1526.1 687.2M1421.5 573.59L1526.1 678.19M1421.5 564.58L1526.1 669.18M1421.5 555.57L1526.1 660.17M1421.5 546.56L1526.1 651.16M1421.5 537.54L1526.1 642.14M1421.5 528.53L1526.1 633.13M1421.5 519.52L1526.1 624.12M1421.5 510.51L1526.1 615.11M1421.5 501.5L1526.1 606.1M1421.5 492.48L1526.1 597.08M1421.5 483.47L1526.1 588.07M1421.5 474.46L1526.1 579.06M1421.5 465.45L1526.1 570.05M1421.5 456.44L1526.1 561.04M1421.5 447.42L1526.1 552.02M1421.5 438.41L1526.1 543.01M1421.5 429.4L1526.1 534M1421.5 420.39L1526.1 524.99M1421.5 411.38L1526.1 515.98M1421.5 402.36L1526.1 506.96M1421.5 393.35L1526.1 497.95M1421.5 384.34L1526.1 488.94M1421.5 375.33L1526.1 479.93M1421.5 366.32L1526.1 470.92M1421.5 357.3L1526.1 461.9M1421.5 348.29L1526.1 452.89M1421.5 339.28L1526.1 443.88M1421.5 330.27L1526.1 434.87" stroke="#000" stroke-width="1.9" fill="none"/><rect x="1423.5" y="431.4" width="100.6" height="189.15" fill="none" stroke="#000" stroke-width="1.5" stroke-linejoin="round"/>
<path d="M1473.8 419.1V444M1467.8 419.1H1479.8M1467.8 444H1479.8" stroke="#000" stroke-width="1.65" fill="none"/>
<rect x="1435.75" y="519.1" width="75.9" height="101.45" fill="#ff0000"/><path clip-path="url(#c29)" d="M1433.75 540.32L1513.65 460.42M1433.75 559.54L1513.65 479.64M1433.75 578.76L1513.65 498.86M1433.75 597.98L1513.65 518.08M1433.75 617.2L1513.65 537.3M1433.75 636.42L1513.65 556.52M1433.75 655.64L1513.65 575.74M1433.75 674.86L1513.65 594.96M1433.75 694.08L1513.65 614.18" stroke="#000" stroke-width="1.6" fill="none"/><rect x="1435.75" y="519.1" width="75.9" height="101.45" fill="none" stroke="#180000" stroke-width="1.4" stroke-linejoin="round"/>
<path d="M1473.8 515.7V522.3M1467.8 515.7H1479.8M1467.8 522.3H1479.8" stroke="#000" stroke-width="1.65" fill="none"/>
<rect x="1448.6" y="529.8" width="50.4" height="90.75" fill="#00ff00"/><path clip-path="url(#c30)" d="M1462.5 529.8V620.55M1476.2 529.8V620.55M1489.9 529.8V620.55" stroke="#000" stroke-width="1.4" fill="none"/><rect x="1448.6" y="529.8" width="50.4" height="90.75" fill="none" stroke="#000" stroke-width="1.6" stroke-linejoin="round"/>
<path d="M1473.8 524.7V534.1M1467.8 524.7H1479.8M1467.8 534.1H1479.8" stroke="#000" stroke-width="1.65" fill="none"/>
<rect x="1461.1" y="570.5" width="25.4" height="50.05" fill="#ffffff"/><rect x="1461.1" y="570.5" width="25.4" height="50.05" fill="none" stroke="#000" stroke-width="1.2" stroke-linejoin="round"/>
<path d="M1473.8 567.9V572.5M1467.8 567.9H1479.8M1467.8 572.5H1479.8" stroke="#000" stroke-width="1.65" fill="none"/>
<rect x="1549.5" y="285.2" width="100.6" height="335.35" fill="#0000ff"/><path clip-path="url(#c31)" d="M1547.5 616.64L1652.1 721.24M1547.5 607.63L1652.1 712.23M1547.5 598.62L1652.1 703.22M1547.5 589.61L1652.1 694.21M1547.5 580.6L1652.1 685.2M1547.5 571.58L1652.1 676.18M1547.5 562.57L1652.1 667.17M1547.5 553.56L1652.1 658.16M1547.5 544.55L1652.1 649.15M1547.5 535.54L1652.1 640.14M1547.5 526.52L1652.1 631.12M1547.5 517.51L1652.1 622.11M1547.5 508.5L1652.1 613.1M1547.5 499.49L1652.1 604.09M1547.5 490.48L1652.1 595.08M1547.5 481.46L1652.1 586.06M1547.5 472.45L1652.1 577.05M1547.5 463.44L1652.1 568.04M1547.5 454.43L1652.1 559.03M1547.5 445.42L1652.1 550.02M1547.5 436.4L1652.1 541M1547.5 427.39L1652.1 531.99M1547.5 418.38L1652.1 522.98M1547.5 409.37L1652.1 513.97M1547.5 400.36L1652.1 504.96M1547.5 391.34L1652.1 495.94M1547.5 382.33L1652.1 486.93M1547.5 373.32L1652.1 477.92M1547.5 364.31L1652.1 468.91M1547.5 355.3L1652.1 459.9M1547.5 346.28L1652.1 450.88M1547.5 337.27L1652.1 441.87M1547.5 328.26L1652.1 432.86M1547.5 319.25L1652.1 423.85M1547.5 310.24L1652.1 414.84M1547.5 301.22L1652.1 405.82M1547.5 292.21L1652.1 396.81M1547.5 283.2L1652.1 387.8M1547.5 274.19L1652.1 378.79M1547.5 265.18L1652.1 369.78M1547.5 256.16L1652.1 360.76M1547.5 247.15L1652.1 351.75M1547.5 238.14L1652.1 342.74M1547.5 229.13L1652.1 333.73M1547.5 220.12L1652.1 324.72M1547.5 211.1L1652.1 315.7M1547.5 202.09L1652.1 306.69M1547.5 193.08L1652.1 297.68M1547.5 184.07L1652.1 288.67" stroke="#000" stroke-width="1.9" fill="none"/><rect x="1549.5" y="285.2" width="100.6" height="335.35" fill="none" stroke="#000" stroke-width="1.5" stroke-linejoin="round"/>
<path d="M1599.8 265.8V305M1593.8 265.8H1605.8M1593.8 305H1605.8" stroke="#000" stroke-width="1.65" fill="none"/>
<rect x="1561.75" y="403.1" width="75.9" height="217.45" fill="#ff0000"/><path clip-path="url(#c32)" d="M1559.75 424.32L1639.65 344.42M1559.75 443.54L1639.65 363.64M1559.75 462.76L1639.65 382.86M1559.75 481.98L1639.65 402.08M1559.75 501.2L1639.65 421.3M1559.75 520.42L1639.65 440.52M1559.75 539.64L1639.65 459.74M1559.75 558.86L1639.65 478.96M1559.75 578.08L1639.65 498.18M1559.75 597.3L1639.65 517.4M1559.75 616.52L1639.65 536.62M1559.75 635.74L1639.65 555.84M1559.75 654.96L1639.65 575.06M1559.75 674.18L1639.65 594.28M1559.75 693.4L1639.65 613.5" stroke="#000" stroke-width="1.6" fill="none"/><rect x="1561.75" y="403.1" width="75.9" height="217.45" fill="none" stroke="#180000" stroke-width="1.4" stroke-linejoin="round"/>
<path d="M1599.8 392.4V414.1M1593.8 392.4H1605.8M1593.8 414.1H1605.8" stroke="#000" stroke-width="1.65" fill="none"/>
<rect x="1574.6" y="454.5" width="50.4" height="166.05" fill="#00ff00"/><path clip-path="url(#c33)" d="M1588.5 454.5V620.55M1602.2 454.5V620.55M1615.9 454.5V620.55" stroke="#000" stroke-width="1.4" fill="none"/><rect x="1574.6" y="454.5" width="50.4" height="166.05" fill="none" stroke="#000" stroke-width="1.6" stroke-linejoin="round"/>
<path d="M1599.8 445.9V462.4M1593.8 445.9H1605.8M1593.8 462.4H1605.8" stroke="#000" stroke-width="1.65" fill="none"/>
<rect x="1587.1" y="546.2" width="25.4" height="74.35" fill="#ffffff"/><rect x="1587.1" y="546.2" width="25.4" height="74.35" fill="none" stroke="#000" stroke-width="1.2" stroke-linejoin="round"/>
<path d="M1599.8 542.5V549.8M1593.8 542.5H1605.8M1593.8 549.8H1605.8" stroke="#000" stroke-width="1.65" fill="none"/>
<rect x="1681.4" y="187" width="100.6" height="433.55" fill="#0000ff"/><path clip-path="url(#c34)" d="M1679.4 617.58L1784 722.18M1679.4 608.56L1784 713.16M1679.4 599.55L1784 704.15M1679.4 590.54L1784 695.14M1679.4 581.53L1784 686.13M1679.4 572.52L1784 677.12M1679.4 563.5L1784 668.1M1679.4 554.49L1784 659.09M1679.4 545.48L1784 650.08M1679.4 536.47L1784 641.07M1679.4 527.46L1784 632.06M1679.4 518.44L1784 623.04M1679.4 509.43L1784 614.03M1679.4 500.42L1784 605.02M1679.4 491.41L1784 596.01M1679.4 482.4L1784 587M1679.4 473.38L1784 577.98M1679.4 464.37L1784 568.97M1679.4 455.36L1784 559.96M1679.4 446.35L1784 550.95M1679.4 437.34L1784 541.94M1679.4 428.32L1784 532.92M1679.4 419.31L1784 523.91M1679.4 410.3L1784 514.9M1679.4 401.29L1784 505.89M1679.4 392.28L1784 496.88M1679.4 383.26L1784 487.86M1679.4 374.25L1784 478.85M1679.4 365.24L1784 469.84M1679.4 356.23L1784 460.83M1679.4 347.22L1784 451.82M1679.4 338.2L1784 442.8M1679.4 329.19L1784 433.79M1679.4 320.18L1784 424.78M1679.4 311.17L1784 415.77M1679.4 302.16L1784 406.76M1679.4 293.14L1784 397.74M1679.4 284.13L1784 388.73M1679.4 275.12L1784 379.72M1679.4 266.11L1784 370.71M1679.4 257.1L1784 361.7M1679.4 248.08L1784 352.68M1679.4 239.07L1784 343.67M1679.4 230.06L1784 334.66M1679.4 221.05L1784 325.65M1679.4 212.04L1784 316.64M1679.4 203.02L1784 307.62M1679.4 194.01L1784 298.61M1679.4 185L1784 289.6M1679.4 175.99L1784 280.59M1679.4 166.98L1784 271.58M1679.4 157.96L1784 262.56M1679.4 148.95L1784 253.55M1679.4 139.94L1784 244.54M1679.4 130.93L1784 235.53M1679.4 121.92L1784 226.52M1679.4 112.9L1784 217.5M1679.4 103.89L1784 208.49M1679.4 94.88L1784 199.48M1679.4 85.87L1784 190.47" stroke="#000" stroke-width="1.9" fill="none"/><rect x="1681.4" y="187" width="100.6" height="433.55" fill="none" stroke="#000" stroke-width="1.5" stroke-linejoin="round"/>
<path d="M1731.7 161.9V211.4M1725.7 161.9H1737.7M1725.7 211.4H1737.7" stroke="#000" stroke-width="1.65" fill="none"/>
<rect x="1693.65" y="353.6" width="75.9" height="266.95" fill="#ff0000"/><path clip-path="url(#c35)" d="M1691.65 374.82L1771.55 294.92M1691.65 394.04L1771.55 314.14M1691.65 413.26L1771.55 333.36M1691.65 432.48L1771.55 352.58M1691.65 451.7L1771.55 371.8M1691.65 470.92L1771.55 391.02M1691.65 490.14L1771.55 410.24M1691.65 509.36L1771.55 429.46M1691.65 528.58L1771.55 448.68M1691.65 547.8L1771.55 467.9M1691.65 567.02L1771.55 487.12M1691.65 586.24L1771.55 506.34M1691.65 605.46L1771.55 525.56M1691.65 624.68L1771.55 544.78M1691.65 643.9L1771.55 564M1691.65 663.12L1771.55 583.22M1691.65 682.34L1771.55 602.44" stroke="#000" stroke-width="1.6" fill="none"/><rect x="1693.65" y="353.6" width="75.9" height="266.95" fill="none" stroke="#180000" stroke-width="1.4" stroke-linejoin="round"/>
<path d="M1731.7 340.4V367.1M1725.7 340.4H1737.7M1725.7 367.1H1737.7" stroke="#000" stroke-width="1.65" fill="none"/>
<rect x="1706.5" y="372.9" width="50.4" height="247.65" fill="#00ff00"/><path clip-path="url(#c36)" d="M1720.4 372.9V620.55M1734.1 372.9V620.55M1747.8 372.9V620.55" stroke="#000" stroke-width="1.4" fill="none"/><rect x="1706.5" y="372.9" width="50.4" height="247.65" fill="none" stroke="#000" stroke-width="1.6" stroke-linejoin="round"/>
<path d="M1731.7 360V385M1725.7 360H1737.7M1725.7 385H1737.7" stroke="#000" stroke-width="1.65" fill="none"/>
<rect x="1719" y="415.9" width="25.4" height="204.65" fill="#ffffff"/><rect x="1719" y="415.9" width="25.4" height="204.65" fill="none" stroke="#000" stroke-width="1.2" stroke-linejoin="round"/>
<path d="M1731.7 405.5V426.2M1725.7 405.5H1737.7M1725.7 426.2H1737.7" stroke="#000" stroke-width="1.65" fill="none"/>
<rect x="1819.9" y="84.4" width="100.6" height="536.15" fill="#0000ff"/><path clip-path="url(#c37)" d="M1817.9 614.11L1922.5 718.71M1817.9 605.1L1922.5 709.7M1817.9 596.08L1922.5 700.68M1817.9 587.07L1922.5 691.67M1817.9 578.06L1922.5 682.66M1817.9 569.05L1922.5 673.65M1817.9 560.04L1922.5 664.64M1817.9 551.02L1922.5 655.62M1817.9 542.01L1922.5 646.61M1817.9 533L1922.5 637.6M1817.9 523.99L1922.5 628.59M1817.9 514.98L1922.5 619.58M1817.9 505.96L1922.5 610.56M1817.9 496.95L1922.5 601.55M1817.9 487.94L1922.5 592.54M1817.9 478.93L1922.5 583.53M1817.9 469.92L1922.5 574.52M1817.9 460.9L1922.5 565.5M1817.9 451.89L1922.5 556.49M1817.9 442.88L1922.5 547.48M1817.9 433.87L1922.5 538.47M1817.9 424.86L1922.5 529.46M1817.9 415.84L1922.5 520.44M1817.9 406.83L1922.5 511.43M1817.9 397.82L1922.5 502.42M1817.9 388.81L1922.5 493.41M1817.9 379.8L1922.5 484.4M1817.9 370.78L1922.5 475.38M1817.9 361.77L1922.5 466.37M1817.9 352.76L1922.5 457.36M1817.9 343.75L1922.5 448.35M1817.9 334.74L1922.5 439.34M1817.9 325.72L1922.5 430.32M1817.9 316.71L1922.5 421.31M1817.9 307.7L1922.5 412.3M1817.9 298.69L1922.5 403.29M1817.9 289.68L1922.5 394.28M1817.9 280.66L1922.5 385.26M1817.9 271.65L1922.5 376.25M1817.9 262.64L1922.5 367.24M1817.9 253.63L1922.5 358.23M1817.9 244.62L1922.5 349.22M1817.9 235.6L1922.5 340.2M1817.9 226.59L1922.5 331.19M1817.9 217.58L1922.5 322.18M1817.9 208.57L1922.5 313.17M1817.9 199.56L1922.5 304.16M1817.9 190.54L1922.5 295.14M1817.9 181.53L1922.5 286.13M1817.9 172.52L1922.5 277.12M1817.9 163.51L1922.5 268.11M1817.9 154.5L1922.5 259.1M1817.9 145.48L1922.5 250.08M1817.9 136.47L1922.5 241.07M1817.9 127.46L1922.5 232.06M1817.9 118.45L1922.5 223.05M1817.9 109.44L1922.5 214.04M1817.9 100.42L1922.5 205.02M1817.9 91.41L1922.5 196.01M1817.9 82.4L1922.5 187M1817.9 73.39L1922.5 177.99M1817.9 64.38L1922.5 168.98M1817.9 55.36L1922.5 159.96M1817.9 46.35L1922.5 150.95M1817.9 37.34L1922.5 141.94M1817.9 28.33L1922.5 132.93M1817.9 19.32L1922.5 123.92M1817.9 10.3L1922.5 114.9M1817.9 1.29L1922.5 105.89M1817.9 -7.72L1922.5 96.88M1817.9 -16.73L1922.5 87.87" stroke="#000" stroke-width="1.9" fill="none"/><rect x="1819.9" y="84.4" width="100.6" height="536.15" fill="none" stroke="#000" stroke-width="1.5" stroke-linejoin="round"/>
<path d="M1870.2 54.6V114.3M1864.2 54.6H1876.2M1864.2 114.3H1876.2" stroke="#000" stroke-width="1.65" fill="none"/>
<rect x="1832.15" y="257.9" width="75.9" height="362.65" fill="#ff0000"/><path clip-path="url(#c38)" d="M1830.15 279.12L1910.05 199.22M1830.15 298.34L1910.05 218.44M1830.15 317.56L1910.05 237.66M1830.15 336.78L1910.05 256.88M1830.15 356L1910.05 276.1M1830.15 375.22L1910.05 295.32M1830.15 394.44L1910.05 314.54M1830.15 413.66L1910.05 333.76M1830.15 432.88L1910.05 352.98M1830.15 452.1L1910.05 372.2M1830.15 471.32L1910.05 391.42M1830.15 490.54L1910.05 410.64M1830.15 509.76L1910.05 429.86M1830.15 528.98L1910.05 449.08M1830.15 548.2L1910.05 468.3M1830.15 567.42L1910.05 487.52M1830.15 586.64L1910.05 506.74M1830.15 605.86L1910.05 525.96M1830.15 625.08L1910.05 545.18M1830.15 644.3L1910.05 564.4M1830.15 663.52L1910.05 583.62M1830.15 682.74L1910.05 602.84" stroke="#000" stroke-width="1.6" fill="none"/><rect x="1832.15" y="257.9" width="75.9" height="362.65" fill="none" stroke="#180000" stroke-width="1.4" stroke-linejoin="round"/>
<path d="M1870.2 240V275.8M1864.2 240H1876.2M1864.2 275.8H1876.2" stroke="#000" stroke-width="1.65" fill="none"/>
<rect x="1845" y="272.7" width="50.4" height="347.85" fill="#00ff00"/><path clip-path="url(#c39)" d="M1858.9 272.7V620.55M1872.6 272.7V620.55M1886.3 272.7V620.55" stroke="#000" stroke-width="1.4" fill="none"/><rect x="1845" y="272.7" width="50.4" height="347.85" fill="none" stroke="#000" stroke-width="1.6" stroke-linejoin="round"/>
<path d="M1870.2 255.6V290.2M1864.2 255.6H1876.2M1864.2 290.2H1876.2" stroke="#000" stroke-width="1.65" fill="none"/>
<rect x="1857.5" y="372.9" width="25.4" height="247.65" fill="#ffffff"/><rect x="1857.5" y="372.9" width="25.4" height="247.65" fill="none" stroke="#000" stroke-width="1.2" stroke-linejoin="round"/>
<path d="M1870.2 360V385M1864.2 360H1876.2M1864.2 385H1876.2" stroke="#000" stroke-width="1.65" fill="none"/>
<rect x="1124.2" y="3.55" width="852.6" height="617" fill="none" stroke="#000" stroke-width="2.4" stroke-linejoin="round"/>
<text x="1124.2" y="653.2" text-anchor="middle" class="tk">1350</text>
<text x="1230.78" y="653.2" text-anchor="middle" class="tk">1400</text>
<text x="1337.35" y="653.2" text-anchor="middle" class="tk">1450</text>
<text x="1443.92" y="653.2" text-anchor="middle" class="tk">1500</text>
<text x="1550.5" y="653.2" text-anchor="middle" class="tk">1550</text>
<text x="1657.08" y="653.2" text-anchor="middle" class="tk">1600</text>
<text x="1763.65" y="653.2" text-anchor="middle" class="tk">1650</text>
<text x="1870.22" y="653.2" text-anchor="middle" class="tk">1700</text>
<text x="1976.8" y="653.2" text-anchor="middle" class="tk">1750</text>
<text x="1115.4" y="568.41" text-anchor="end" class="tk">20</text>
<text x="1115.4" y="445.03" text-anchor="end" class="tk">40</text>
<text x="1115.4" y="321.65" text-anchor="end" class="tk">60</text>
<text x="1115.4" y="198.27" text-anchor="end" class="tk">80</text>
<text x="1115.4" y="74.89" text-anchor="end" class="tk">100</text>
<text y="709" class="al"><tspan x="1340.2" letter-spacing="0.06">Laser Irradiance</tspan> <tspan x="1591.7" font-weight="normal" font-size="36.9">(</tspan><tspan x="1603.8">GW/cm</tspan><tspan x="1720" dy="-15.6" font-size="32.5">2</tspan><tspan x="1737" dy="15.6" font-weight="normal" font-size="32">)</tspan></text>
<text transform="translate(1061.6 312.6) rotate(-90)" text-anchor="middle" class="al">SBG</text>
<rect x="1134.4" y="17.1" width="68.4" height="33.3" fill="#0000ff"/><path clip-path="url(#c40)" d="M1132.4 42.14L1204.8 114.54M1132.4 33.12L1204.8 105.52M1132.4 24.11L1204.8 96.51M1132.4 15.1L1204.8 87.5M1132.4 6.09L1204.8 78.49M1132.4 -2.92L1204.8 69.48M1132.4 -11.94L1204.8 60.46M1132.4 -20.95L1204.8 51.45M1132.4 -29.96L1204.8 42.44M1132.4 -38.97L1204.8 33.43M1132.4 -47.98L1204.8 24.42" stroke="#000" stroke-width="2.05" fill="none"/><rect x="1134.4" y="17.1" width="68.4" height="33.3" fill="none" stroke="#000" stroke-width="1.9" stroke-linejoin="round"/>
<text x="1212.8" y="44.5" class="lg">1 <tspan dx="-1.2">mm BRELIBS-Cu</tspan></text>
<rect x="1134.4" y="55.3" width="68.4" height="33.3" fill="#ff0000"/><path clip-path="url(#c41)" d="M1132.4 76.52L1204.8 4.12M1132.4 95.74L1204.8 23.34M1132.4 114.96L1204.8 42.56M1132.4 134.18L1204.8 61.78M1132.4 153.4L1204.8 81" stroke="#000" stroke-width="1.75" fill="none"/><rect x="1134.4" y="55.3" width="68.4" height="33.3" fill="none" stroke="#000" stroke-width="1.9" stroke-linejoin="round"/>
<text x="1212.8" y="82.7" class="lg">1 <tspan dx="-1.2">mm LIBS</tspan></text>
<rect x="1134.4" y="93.5" width="68.4" height="33.3" fill="#00ff00"/><path clip-path="url(#c42)" d="M1148.3 93.5V126.8M1162 93.5V126.8M1175.7 93.5V126.8M1189.4 93.5V126.8" stroke="#000" stroke-width="1.55" fill="none"/><rect x="1134.4" y="93.5" width="68.4" height="33.3" fill="none" stroke="#000" stroke-width="1.9" stroke-linejoin="round"/>
<text x="1212.8" y="120.9" class="lg">3 <tspan dx="-1.2">mm BRELIBS-Cu</tspan></text>
<rect x="1134.4" y="131.7" width="68.4" height="33.3" fill="#ffffff"/><rect x="1134.4" y="131.7" width="68.4" height="33.3" fill="none" stroke="#000" stroke-width="1.3" stroke-linejoin="round"/>
<text x="1212.8" y="158.3" class="lg">3 <tspan dx="-1.2">mm LIBS</tspan></text>
<text x="1571" y="57" class="lg">Mg(I) 285.2 nm</text>
</svg>
</body></html>
